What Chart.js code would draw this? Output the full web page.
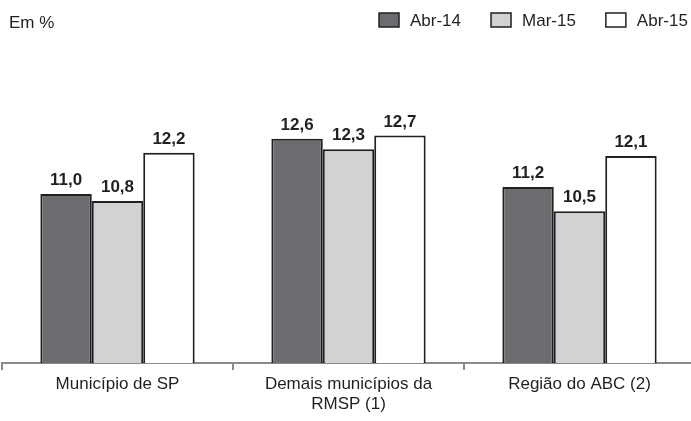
<!DOCTYPE html>
<html>
<head>
<meta charset="utf-8">
<script src="https://cdn.jsdelivr.net/npm/chart.js@4"></script>
<style>
  html, body { margin: 0; padding: 0; background: #fff; overflow: hidden; }
  #wrap { position: relative; width: 691px; height: 421px; overflow: hidden; }
</style>
</head>
<body>
<div id="wrap">
  <canvas id="grafico" width="695" height="421"></canvas>
</div>
<script>
const categorias = [['Município de SP'], ['Demais municípios da', 'RMSP (1)'], ['Região do ABC (2)']];
const abr14 = [11.0, 12.6, 11.2];
const mar15 = [10.8, 12.3, 10.5];
const abr15 = [12.2, 12.7, 12.1];
const series = ['Abr-14', 'Mar-15', 'Abr-15'];
const unidade = 'Em %';

const cores = ['#6b6c6f', '#d1d2d4', '#ffffff'];
const contorno = '#231f20';
const fonte = '"Liberation Sans", Arial, sans-serif';

// valores por cima das barras
const rotulos = {
    id: 'rotulos',
    afterDatasetsDraw(chart) {
        const ctx = chart.ctx;
        ctx.save();
        ctx.font = 'bold 17px ' + fonte;
        ctx.fillStyle = contorno;
        ctx.textAlign = 'center';
        ctx.textBaseline = 'bottom';
        chart.data.datasets.forEach((ds, i) => {
            chart.getDatasetMeta(i).data.forEach((bar, j) => {
                ctx.fillText(ds.data[j].toFixed(1).replace('.', ','), bar.x, bar.y - 5);
            });
        });
        ctx.restore();
    }
};

// "Em %" e legenda no topo
const cabecalho = {
    id: 'cabecalho',
    afterDraw(chart) {
        const ctx = chart.ctx;
        ctx.save();
        ctx.font = '17px ' + fonte;
        ctx.fillStyle = contorno;
        ctx.textBaseline = 'middle';
        ctx.textAlign = 'left';
        ctx.fillText(unidade, 9, 23);

        let x = 379;
        chart.data.datasets.forEach((ds) => {
            ctx.fillStyle = ds.backgroundColor;
            ctx.fillRect(x, 13, 20, 14);
            ctx.strokeStyle = contorno;
            ctx.lineWidth = 1.5;
            ctx.strokeRect(x, 13, 20, 14);
            ctx.fillStyle = contorno;
            ctx.fillText(ds.label, x + 31, 21);
            x += 31 + ctx.measureText(ds.label).width + 30;
        });
        ctx.restore();
    }
};

new Chart(document.getElementById('grafico'), {
    type: 'bar',
    data: {
        labels: categorias,
        datasets: [
            { label: series[0], data: abr14, backgroundColor: cores[0] },
            { label: series[1], data: mar15, backgroundColor: cores[1] },
            { label: series[2], data: abr15, backgroundColor: cores[2] }
        ]
    },
    options: {
        responsive: false,
        animation: false,
        events: [],
        layout: { padding: { left: 2, right: 0, top: 54, bottom: 2.2 } },
        datasets: {
            bar: {
                borderColor: contorno,
                borderWidth: 2,
                borderSkipped: false,
                barPercentage: 1,
                categoryPercentage: 0.668
            }
        },
        plugins: {
            legend: { display: false },
            tooltip: { enabled: false }
        },
        scales: {
            x: {
                grid: { offset: true, drawOnChartArea: false, drawTicks: true, tickLength: 7, color: '#8a8a8a', lineWidth: 2 },
                border: { color: '#8a8a8a', width: 2 },
                ticks: { color: contorno, font: { family: fonte, size: 17, lineHeight: 1.2 }, padding: 4, maxRotation: 0 }
            },
            y: {
                display: false,
                min: 6.1,
                max: 15.06
            }
        }
    },
    plugins: [rotulos, cabecalho]
});
</script>
</body>
</html>
